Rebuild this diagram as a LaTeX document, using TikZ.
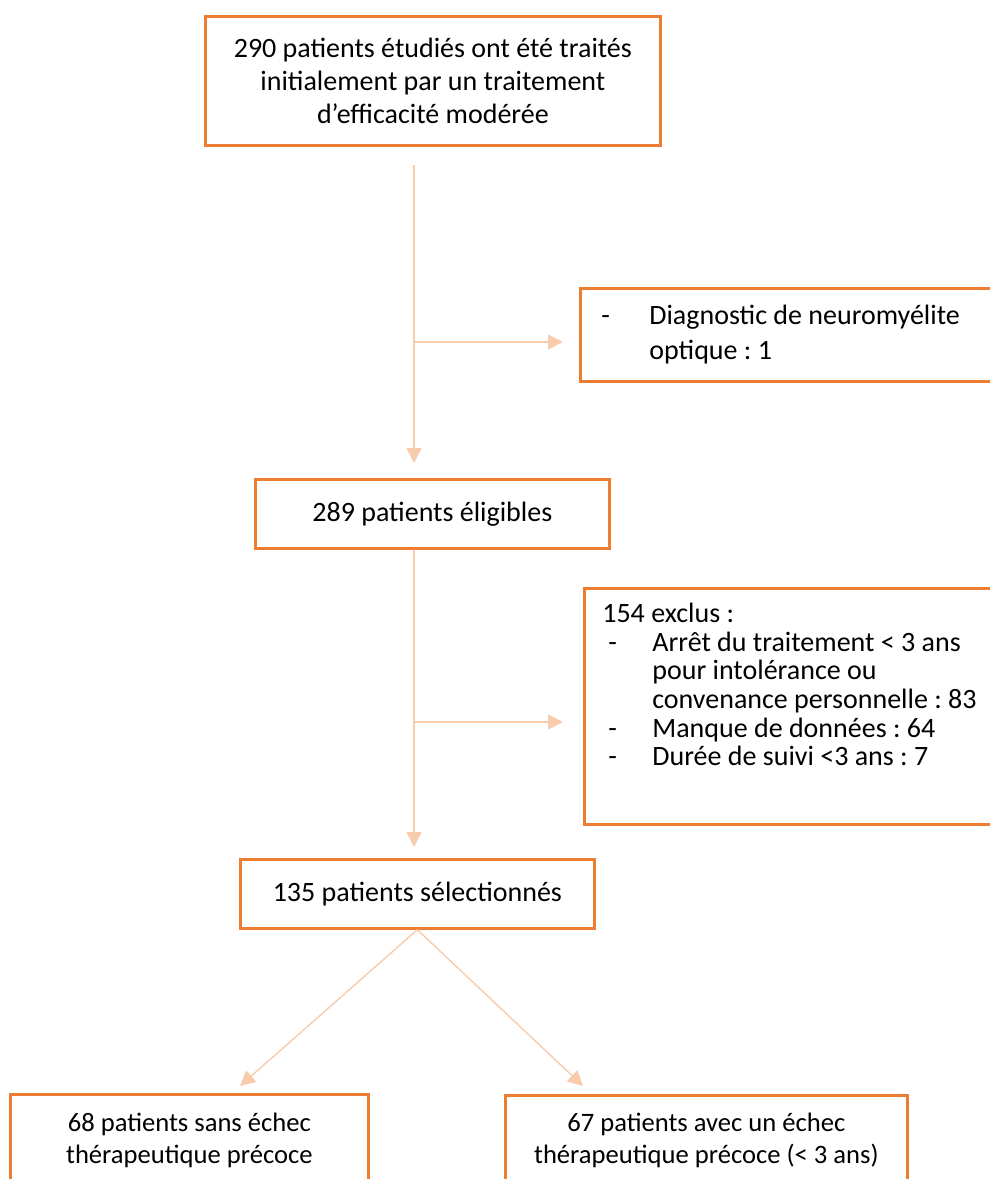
\documentclass[tikz,border=0pt]{standalone}
\usepackage{fontspec}
\setmainfont{Carlito}
\usetikzlibrary{arrows.meta,positioning}
\frenchspacing

\definecolor{boxorange}{HTML}{ED7D31}
\definecolor{flowpeach}{HTML}{F8CBAD}

\tikzset{
  stepbox/.style={draw=boxorange, line width=1.35pt, inner sep=0pt, anchor=north west,
    align=center, font=\fontsize{14}{16.7}\selectfont},
  flow/.style={draw=flowpeach, line width=0.7pt, -{Triangle[length=7.5pt,width=7.5pt]}, flowpeach},
}

\begin{document}
\begin{tikzpicture}[x=0.5pt, y=-0.5pt]

\useasboundingbox (0,0) rectangle (990,1179);
\clip (0,0) rectangle (990,1179);

% main column
\node[stepbox, minimum width=227.5pt, minimum height=64.5pt] (start) at (204,15)
  {290 patients étudiés ont été traités\\initialement par un traitement\\d’efficacité modérée};
\node[stepbox, minimum width=177pt, minimum height=34.5pt] (elig) at (254,478) {289 patients éligibles};
\node[stepbox, minimum width=177pt, minimum height=34.5pt] (sel) at (239,858) {135 patients sélectionnés};

% exclusions (run off the right edge)
\node[stepbox, align=flush left, minimum height=46.5pt, inner xsep=10.5pt, text width=200pt,
  font=\fontsize{14}{17.5}\selectfont] (diag) at (579,287)
  {\makebox[24pt][l]{-}Diagnostic de neuromyélite\\\hspace*{24pt}optique : 1};
\node[stepbox] (excl) at (583,587)
  {\begin{minipage}[c][118pt][t]{218.5pt}
   \fontsize{14}{14.35}\selectfont\raggedright\leftskip=9pt
   \rule{0pt}{17pt}154 exclus :\\
   \makebox[25pt][l]{\hspace{3pt}-}Arrêt du traitement < 3 ans\\
   \hspace*{25pt}pour intolérance ou\\
   \hspace*{25pt}convenance personnelle : 83\\
   \makebox[25pt][l]{\hspace{3pt}-}Manque de données : 64\\
   \makebox[25pt][l]{\hspace{3pt}-}Durée de suivi <3 ans : 7
   \end{minipage}};

% two groups (run off the bottom edge)
\node[stepbox, minimum width=179pt, minimum height=46pt, font=\fontsize{13.3}{16}\selectfont] (nofail) at (9,1093)
  {68 patients sans échec\\thérapeutique précoce};
\node[stepbox, minimum width=201pt, minimum height=45pt, font=\fontsize{13.3}{16}\selectfont] (fail) at (504,1094)
  {67 patients avec un échec\\thérapeutique précoce (< 3 ans)};

\coordinate (a1) at (414,165);
\coordinate (b1) at (414,342);
\coordinate (b2) at (414,722);
\coordinate (tipL) at (240,1086);
\coordinate (tipR) at (583,1086);

\draw[flow, shorten >=7.5pt] (a1) -- (a1 |- elig.north);
\draw[flow, shorten >=8pt] (b1) -- (b1 -| diag.west);
\draw[flow, shorten >=5.5pt] (elig.south -| a1) -- (a1 |- sel.north);
\draw[flow, shorten >=10pt] (b2) -- (b2 -| excl.west);

\draw[flow] (sel.south) -- (tipL);
\draw[flow] (sel.south) -- (tipR);

\end{tikzpicture}
\end{document}
